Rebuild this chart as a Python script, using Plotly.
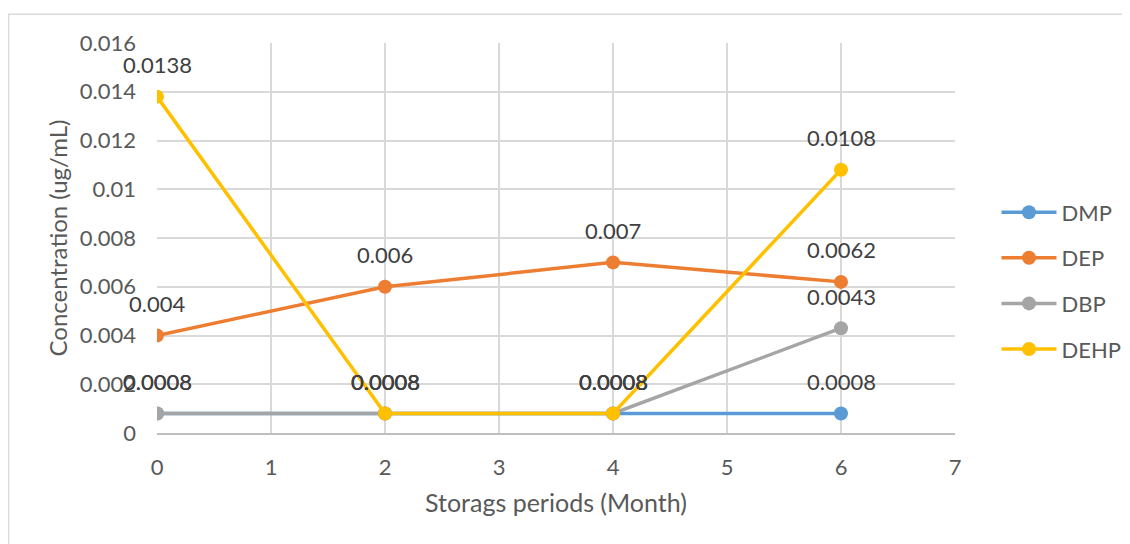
import plotly.graph_objects as go

months = [0, 2, 4, 6]
series_names = ["DMP", "DEP", "DBP", "DEHP"]
dmp = [0.0008, 0.0008, 0.0008, 0.0008]
dep = [0.004, 0.006, 0.007, 0.0062]
dbp = [0.0008, 0.0008, 0.0008, 0.0043]
dehp = [0.0138, 0.0008, 0.0008, 0.0108]
colors = ["#5B9BD5", "#ED7D31", "#A5A5A5", "#FFC000"]
y_tickvals = [0, 0.002, 0.004, 0.006, 0.008, 0.01, 0.012, 0.014, 0.016]
y_ticktext = ["0", "0.002", "0.004", "0.006", "0.008", "0.01", "0.012", "0.014", "0.016"]
x_tickvals = [0, 1, 2, 3, 4, 5, 6, 7]

FONT = "Lato, Open Sans, sans-serif"
fig = go.Figure()
annotations = []
for name, vals, col in zip(series_names, [dmp, dep, dbp, dehp], colors):
    fig.add_trace(go.Scatter(
        x=months, y=vals, name=name, mode="lines+markers",
        line=dict(color=col, width=3.5),
        marker=dict(color=col, size=14),
        legendgroup=name,
    ))
    for xv, yv in zip(months, vals):
        annotations.append(dict(
            x=xv, y=yv, xref="x", yref="y", text=f"{yv:g}", showarrow=False,
            yshift=32, font=dict(family=FONT, size=22, color="#404040"),
        ))

fig.update_layout(
    width=1130, height=544,
    margin=dict(l=149, r=183, t=35, b=119),
    paper_bgcolor="white", plot_bgcolor="white",
    font=dict(family=FONT, size=22, color="#595959"),
    showlegend=True,
    legend=dict(x=1.052, y=0.39, xanchor="left", yanchor="middle",
                font=dict(family=FONT, size=22, color="#595959"),
                traceorder="grouped", tracegroupgap=14, itemwidth=55),
    annotations=annotations,
    shapes=[dict(type="rect", xref="paper", yref="paper",
                 x0=-0.186, x1=1.3, y0=-0.5, y1=1.074,
                 line=dict(color="#D9D9D9", width=1.5), fillcolor="rgba(0,0,0,0)", layer="below")],
)
fig.update_xaxes(
    range=[0, 7], tickvals=x_tickvals, showgrid=True, gridcolor="#D9D9D9", gridwidth=1.5,
    zeroline=False, showline=True, linecolor="#BFBFBF", linewidth=1.5,
    ticks="", ticklabelstandoff=14,
    tickfont=dict(family=FONT, size=22, color="#595959"),
    title=dict(text="Storags periods (Month)", standoff=15,
               font=dict(family=FONT, size=25, color="#595959")),
)
fig.update_yaxes(
    range=[0, 0.016], tickvals=y_tickvals, ticktext=y_ticktext, showgrid=True,
    gridcolor="#D9D9D9", gridwidth=1.5, zeroline=False, showline=False,
    ticks="", ticklabelstandoff=20,
    tickfont=dict(family=FONT, size=22, color="#595959"),
    title=dict(text="Concentration (ug/mL)", standoff=5,
               font=dict(family=FONT, size=24, color="#595959")),
)
fig.write_html("out.html")
